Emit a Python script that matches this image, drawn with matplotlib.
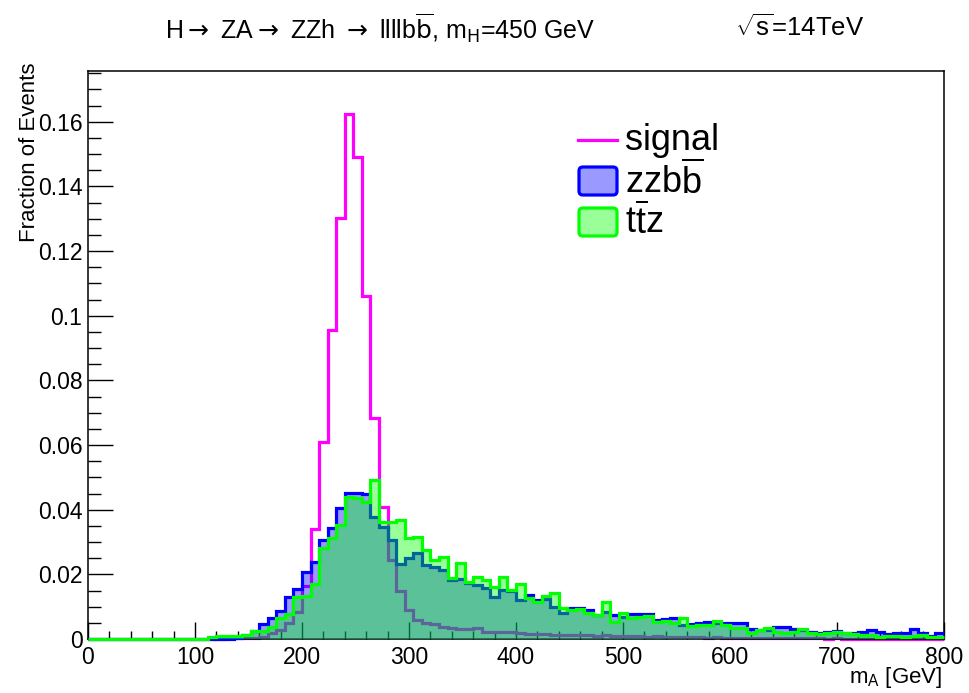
import matplotlib
matplotlib.use('Agg')
import matplotlib.pyplot as plt
import numpy as np
from matplotlib.patches import FancyBboxPatch
from matplotlib.lines import Line2D

plt.rcParams['font.family'] = ['Liberation Sans', 'DejaVu Sans']
plt.rcParams['mathtext.fontset'] = 'custom'
plt.rcParams['mathtext.rm'] = 'Liberation Sans'
plt.rcParams['mathtext.it'] = 'Liberation Sans:italic'
plt.rcParams['mathtext.bf'] = 'Liberation Sans:bold'

# ---------------- data ----------------
x_min, x_max, n_bins = 0, 800, 100

signal = [0]*16 + [
    0.0002, 0.0002, 0.0003, 0.0004, 0.0007, 0.0018, 0.0028, 0.0049, 0.0082, 0.0165,
    0.034, 0.0608, 0.0956, 0.1303, 0.1624, 0.149, 0.1061, 0.0684, 0.0409, 0.0244,
    0.015, 0.009, 0.0059, 0.0049, 0.0046, 0.0038, 0.0033, 0.003, 0.003, 0.0033,
    0.0023, 0.0023, 0.0023, 0.0022, 0.0018, 0.0017, 0.0016, 0.0014, 0.0013, 0.0012,
    0.0012, 0.0011, 0.0012, 0.001, 0.0011, 0.0009, 0.0009, 0.0008, 0.0008, 0.0007,
    0.0008, 0.0006, 0.0007, 0.0006, 0.0005, 0.0005, 0.0004, 0.0005, 0.0004, 0.0004,
    0.0003, 0.0004, 0.0003, 0.0003, 0.0002, 0.0003, 0.0002, 0.0002, 0.0002, 0.0002,
    0.0001, 0.0002, 0.0001, 0.0001, 0.0001, 0.0001, 0.0001, 0.0001, 0.0001, 0.0001,
    0.0001, 0.0001, 0.0001, 0.0001]

zzbb = [0]*17 + [
    0.0004, 0.0012, 0.0025, 0.0046, 0.0066, 0.0088, 0.0131, 0.0154, 0.0208, 0.0237,
    0.0306, 0.0342, 0.0404, 0.0452, 0.0452, 0.0448, 0.0378, 0.0347, 0.0306, 0.0232,
    0.025, 0.0267, 0.0229, 0.0224, 0.0213, 0.0182, 0.0185, 0.0172, 0.0167, 0.0157,
    0.0131, 0.0152, 0.0148, 0.0122, 0.0135, 0.012, 0.0125, 0.01, 0.0079, 0.0097,
    0.0097, 0.0091, 0.0075, 0.0085, 0.0074, 0.0069, 0.0077, 0.0077, 0.0078, 0.006,
    0.0061, 0.0066, 0.0042, 0.0045, 0.0049, 0.0053, 0.0051, 0.0049, 0.0049, 0.0049,
    0.003, 0.0028, 0.0028, 0.0038, 0.0038, 0.003, 0.0028, 0.0023, 0.002, 0.0021,
    0.0026, 0.0018, 0.0018, 0.0022, 0.0028, 0.0023, 0.0014, 0.0018, 0.0018, 0.0031,
    0.002, 0.001, 0.0018]

ttz = [0]*14 + [
    0.0006, 0.0009, 0.001, 0.001, 0.0013, 0.0025, 0.0024, 0.0038, 0.0066, 0.0076,
    0.0131, 0.0133, 0.017, 0.028, 0.0311, 0.0353, 0.044, 0.0435, 0.0425, 0.0492,
    0.0363, 0.0362, 0.0368, 0.0311, 0.0314, 0.0275, 0.0244, 0.0255, 0.0188, 0.0234,
    0.0177, 0.0193, 0.0182, 0.0162, 0.0191, 0.0152, 0.017, 0.0128, 0.0115, 0.0132,
    0.0142, 0.0096, 0.0091, 0.0092, 0.0079, 0.0074, 0.0113, 0.0054, 0.0079, 0.0065,
    0.0068, 0.007, 0.0054, 0.0055, 0.005, 0.0064, 0.004, 0.0042, 0.0042, 0.0057,
    0.0042, 0.0033, 0.0033, 0.002, 0.0028, 0.0033, 0.0023, 0.0018, 0.0023, 0.0031,
    0.0018, 0.0014, 0.0018, 0.0022, 0.0018, 0.0014, 0.0012, 0.0012, 0.0007, 0.0008,
    0.0009, 0.0007, 0.0008, 0.0012, 0.0005, 0.0005]

x_ticks = [0, 100, 200, 300, 400, 500, 600, 700, 800]
y_ticks = [0, 0.02, 0.04, 0.06, 0.08, 0.1, 0.12, 0.14, 0.16]
y_tick_labels = ['0', '0.02', '0.04', '0.06', '0.08', '0.1', '0.12', '0.14', '0.16']

edges = np.linspace(x_min, x_max, n_bins + 1)

# ---------------- figure ----------------
W, H = 969, 693
fig = plt.figure(figsize=(W/100, H/100), dpi=100)
ax = fig.add_axes([88/W, 54/H, 856/W, 568/H])

BLUE = (0, 0, 1)
GREEN = (0, 1, 0)
MAG = (1, 0, 1)
LW = 2.3

ax.stairs(signal, edges, color=MAG, lw=LW, zorder=2, baseline=None, clip_on=False)
ax.stairs(zzbb, edges, fill=True, color=BLUE, alpha=0.4, lw=0, zorder=3)
ax.stairs(zzbb, edges, color=BLUE, lw=LW, zorder=4, baseline=None, clip_on=False)
ax.stairs(ttz, edges, fill=True, color=GREEN, alpha=0.4, lw=0, zorder=5)
ax.stairs(ttz, edges, color=GREEN, lw=LW, zorder=6, baseline=None, clip_on=False)

ax.set_xlim(x_min, x_max)
ax.set_ylim(0, 0.1757)
ax.set_xticks(x_ticks)
ax.set_xticklabels([str(v) for v in x_ticks])
ax.set_xticks(np.arange(0, 801, 20), minor=True)
ax.set_yticks(y_ticks)
ax.set_yticklabels(y_tick_labels)
ax.set_yticks(np.arange(0, 0.1757, 0.005), minor=True)
ax.set_axisbelow(True)

ax.tick_params(axis='x', which='major', direction='in', length=12.3, width=1.0,
               labelsize=16.5, pad=5)
ax.tick_params(axis='x', which='minor', direction='in', length=6.1, width=1.0)
ax.tick_params(axis='y', which='major', direction='in', length=18, width=1.0,
               labelsize=16.5, pad=4)
ax.tick_params(axis='y', which='minor', direction='in', length=9, width=1.0)
for s in ax.spines.values():
    s.set_linewidth(1.1)

# titles / labels
fig.text(165/W, 1 - 28/H,
         'H$\\rightarrow$ ZA$\\rightarrow$ ZZh $\\rightarrow$ llllb$\\overline{\\mathrm{b}}$, m$_{\\mathrm{H}}$=450 GeV',
         fontsize=18, ha='left', va='center', math_fontfamily='dejavusans')
fig.text(735/W, 1 - 28/H, r'$\sqrt{\mathrm{s}}$=14TeV', fontsize=18.5, ha='left', va='center')
fig.text(30/W, 1 - 62/H, 'Fraction of Events', rotation=90, fontsize=16,
         ha='center', va='top')
fig.text(942/W, 1 - 678/H, r'm$_{\mathrm{A}}$ [GeV]', fontsize=16, ha='right', va='center')

# legend (manual)
def fx(px):
    return px / W

def fy(py):
    return 1 - py / H

fig.add_artist(Line2D([fx(578), fx(617)], [fy(140), fy(140)], color=MAG, lw=LW,
                      transform=fig.transFigure))
for yc, col in [(181, BLUE), (222, GREEN)]:
    face = tuple(0.6 + 0.4 * c for c in col)
    box = FancyBboxPatch((fx(579), fy(yc + 14)), fx(617) - fx(579), (28) / H,
                         boxstyle='round,pad=0,rounding_size=0.004',
                         transform=fig.transFigure, facecolor=face, edgecolor=col,
                         lw=LW, mutation_aspect=W / H)
    fig.add_artist(box)
fig.text(fx(625), fy(140), 'signal', fontsize=26, ha='left', va='center')
fig.text(fx(625), fy(181), r'zzb$\overline{\mathrm{b}}$', fontsize=26, ha='left', va='center')
fig.text(fx(625), fy(222), r't$\overline{\mathrm{t}}$z', fontsize=26, ha='left', va='center')

fig.savefig('out.png', dpi=100)
